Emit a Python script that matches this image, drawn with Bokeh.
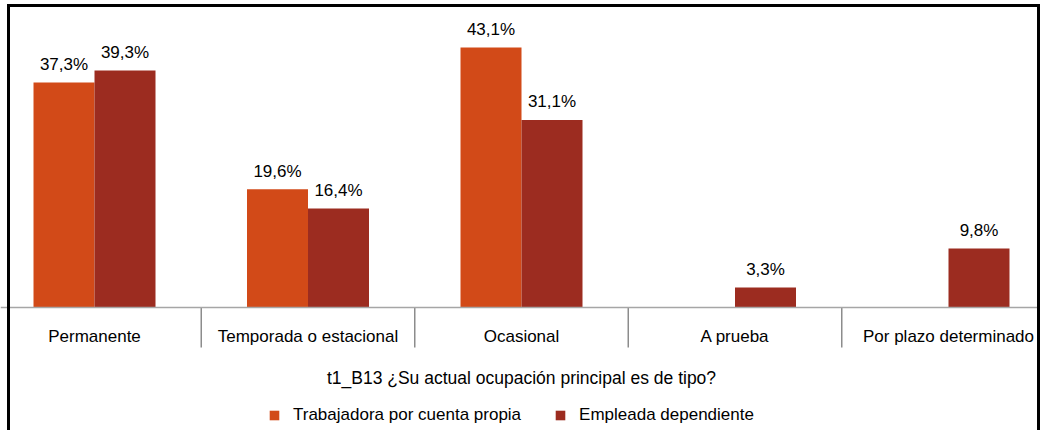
from bokeh.plotting import figure
from bokeh.models import (ColumnDataSource, Legend, LegendItem, BoxAnnotation,
                          Range1d, Span)
from bokeh.core.properties import value
from bokeh.transform import dodge
from bokeh.embed import file_html
from bokeh.resources import INLINE
import math

# ---- data ----
categories = ["Permanente", "Temporada o estacional", "Ocasional", "A prueba",
              "Por plazo determinado"]
series_names = ["Trabajadora por cuenta propia", "Empleada dependiente"]
propia = [37.3, 19.6, 43.1, float("nan"), float("nan")]
dependiente = [39.3, 16.4, 31.1, 3.3, 9.8]
axis_title = "t1_B13 ¿Su actual ocupación principal es de tipo?"

# ---- style ----
colors = ["#D24A18", "#9C2C20"]
FONT = "'Liberation Sans', Arial, sans-serif"
W, H = 1040, 430
PX_PER_UNIT = 6.03          # vertical scale (pixels per percentage point)
BASE_PX = 307               # pixel row of the category axis
SEP_LEN_PX = 40             # length of the category separators

idx = list(range(len(categories)))
Y0 = -(H - BASE_PX) / PX_PER_UNIT
Y1 = BASE_PX / PX_PER_UNIT


def fmt(v):
    return ("%.1f%%" % v).replace(".", ",")


p = figure(width=W, height=H, output_backend="svg", toolbar_location=None,
           x_range=Range1d(-0.4403, 4.4309), y_range=Range1d(Y0, Y1),
           x_axis_location=None, y_axis_location=None,
           min_border=0, min_border_left=0, min_border_right=0,
           min_border_top=0, min_border_bottom=0)
p.grid.visible = False
p.outline_line_color = None
p.background_fill_color = "white"
p.border_fill_color = "white"

# bars and value labels
bw = 0.2857
offsets = [-bw / 2, bw / 2]
renderers = []
for vals, off, col in zip([propia, dependiente], offsets, colors):
    src = ColumnDataSource(dict(idx=idx, val=vals))
    r = p.vbar(x=dodge("idx", off, range=p.x_range), top="val", width=bw,
               bottom=0, fill_color=col, line_color=None, source=src)
    renderers.append(r)
    keep = [i for i, v in zip(idx, vals) if not (isinstance(v, float) and math.isnan(v))]
    lsrc = ColumnDataSource(dict(idx=keep,
                                 val=[vals[i] for i in keep],
                                 lab=[fmt(vals[i]) for i in keep]))
    p.text(x=dodge("idx", off, range=p.x_range), y="val", text="lab", source=lsrc,
           text_align="center", text_baseline="middle", y_offset=-18,
           text_font=value(FONT), text_font_size="17px", text_color="#000000")

# category axis: base line, separators, labels, title
p.add_layout(Span(location=0, dimension="width", line_color="#a6a6a6",
                  line_width=1.5))
bounds = [i + 0.5 for i in idx[:-1]]
p.segment(x0=bounds, x1=bounds, y0=[0] * len(bounds),
          y1=[-SEP_LEN_PX / PX_PER_UNIT] * len(bounds),
          line_color="#8c8c8c", line_width=1.5)
p.text(x=idx, y=[0] * len(idx), text=categories, text_align="center",
       text_baseline="middle", y_offset=29, text_font=value(FONT),
       text_font_size="17px", text_color="#000000")
p.text(x=[(len(idx) - 1) / 2], y=[0], text=[axis_title], text_align="center",
       text_baseline="middle", y_offset=70, text_font=value(FONT),
       text_font_size="17.5px", text_color="#000000")

legend = Legend(items=[LegendItem(label=n, renderers=[r]) for n, r in zip(series_names, renderers)],
                orientation="horizontal", location=(268, 5),
                glyph_width=12, glyph_height=12, label_standoff=13, spacing=33,
                label_text_font=FONT, label_text_font_size="17px",
                label_text_color="#000000", label_text_baseline="middle",
                label_height=12, padding=0, margin=0,
                border_line_color=None, background_fill_alpha=0)
p.add_layout(legend)

# chart border (left, top, right; open at the bottom edge of the picture)
top_hi = Y1 - 3.5 / PX_PER_UNIT
top_lo = Y1 - 6.5 / PX_PER_UNIT
p.add_layout(BoxAnnotation(left=6.5, right=1039.5, left_units="screen",
                           right_units="screen", top=top_hi, bottom=top_lo,
                           fill_color="black", fill_alpha=1, line_color=None))
p.add_layout(BoxAnnotation(left=6.5, right=9.5, left_units="screen",
                           right_units="screen", top=top_hi, bottom=Y0,
                           fill_color="black", fill_alpha=1, line_color=None))
p.add_layout(BoxAnnotation(left=1036.5, right=1039.5, left_units="screen",
                           right_units="screen", top=top_hi, bottom=Y0,
                           fill_color="black", fill_alpha=1, line_color=None))

open("out.html", "w").write(file_html(p, INLINE))
